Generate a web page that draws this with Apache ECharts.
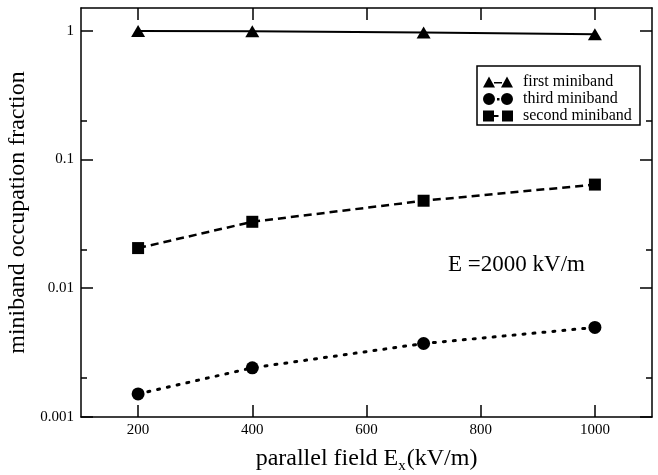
<!DOCTYPE html>
<html>
<head>
<meta charset="utf-8">
<script src="https://cdn.jsdelivr.net/npm/echarts@6/dist/echarts.min.js"></script>
<style>
html,body{margin:0;padding:0;background:#fff;}
#chart{width:658px;height:475px;}
</style>
</head>
<body>
<div id="chart"></div>
<script>
// ---- data ----
var fieldX = [200, 400, 700, 1000];
var firstMiniband = [0.995, 0.99, 0.97, 0.94];
var thirdMiniband = [0.00151, 0.00241, 0.00372, 0.00496];
var secondMiniband = [0.0205, 0.0328, 0.0478, 0.0638];
var seriesNames = ['first miniband', 'third miniband', 'second miniband'];
var xTickValues = [200, 400, 600, 800, 1000];
var yTickValues = [0.001, 0.01, 0.1, 1];
var yTickLabels = ['0.001', '0.01', '0.1', '1'];
var yMinorTicks = [0.002, 0.02, 0.2];
var annotation = 'E =2000 kV/m';

function pairs(xs, ys) { return xs.map(function (x, i) { return [x, ys[i]]; }); }

var FONT = 'Liberation Serif';
var chart = echarts.init(document.getElementById('chart'), null, { renderer: 'canvas' });

function yLabel(v) {
  var idx = Math.round(Math.log10(v)) + 3;
  return yTickLabels[idx] !== undefined ? yTickLabels[idx] : '';
}

// legend icons: marker - line style - marker (30 x 12 box)
var iconTri = 'path://M0 12L6 1L12 12ZM18 12L24 1L30 12ZM11 6.5L19 6.5L19 8L11 8Z';
var iconCircle = 'path://M0 6A6 6 0 1 0 12 6A6 6 0 1 0 0 6ZM18 6A6 6 0 1 0 30 6A6 6 0 1 0 18 6ZM14 5L16.5 5L16.5 7.5L14 7.5Z';
var iconSquare = 'path://M0 0.5L11 0.5L11 11.5L0 11.5ZM19 0.5L30 0.5L30 11.5L19 11.5ZM11 5L15.5 5L15.5 7L11 7Z';

var baseX = {
  type: 'value', min: 100, max: 1100,
  splitLine: { show: false },
  axisLine: { show: true, onZero: false, lineStyle: { color: '#000', width: 1.5 } }
};
var baseY = {
  type: 'log', logBase: 10, min: 0.001, max: 1.5,
  splitLine: { show: false },
  axisLine: { show: true, onZero: false, lineStyle: { color: '#000', width: 1.5 } }
};

var option = {
  backgroundColor: '#fff',
  animation: false,
  grid: { left: 81, right: 6, top: 8, bottom: 58, containLabel: false, outerBoundsMode: 'none' },
  xAxis: [
    Object.assign({}, baseX, {
      position: 'bottom',
      name: 'parallel field E{sub|x}(kV/m)',
      nameLocation: 'middle', nameGap: 30,
      nameTextStyle: {
        fontFamily: FONT, fontSize: 24, color: '#000',
        rich: { sub: { fontFamily: FONT, fontSize: 15, color: '#000', verticalAlign: 'bottom', padding: [0, 1, -3, 0] } }
      },
      axisTick: { show: true, inside: true, length: 12, customValues: xTickValues, lineStyle: { color: '#000', width: 1.5 } },
      axisLabel: { show: true, customValues: xTickValues, formatter: function (v) { return String(v); }, margin: 6, fontFamily: FONT, fontSize: 15, color: '#000' }
    }),
    Object.assign({}, baseX, {
      position: 'top',
      axisTick: { show: true, inside: true, length: 12, customValues: xTickValues, lineStyle: { color: '#000', width: 1.5 } },
      axisLabel: { show: false }
    })
  ],
  yAxis: [
    Object.assign({}, baseY, {
      position: 'left',
      name: 'miniband occupation fraction',
      nameLocation: 'middle', nameGap: 46,
      nameTextStyle: { fontFamily: FONT, fontSize: 24, color: '#000' },
      axisTick: { show: true, inside: true, length: 12, customValues: yTickValues, lineStyle: { color: '#000', width: 1.5 } },
      axisLabel: { show: true, customValues: yTickValues, formatter: yLabel, margin: 7, fontFamily: FONT, fontSize: 15, color: '#000' }
    }),
    Object.assign({}, baseY, {
      position: 'left',
      axisLine: { show: false },
      axisTick: { show: true, inside: true, length: 6, customValues: yMinorTicks, lineStyle: { color: '#000', width: 1.5 } },
      axisLabel: { show: false }
    }),
    Object.assign({}, baseY, {
      position: 'right',
      axisTick: { show: true, inside: true, length: 12, customValues: yTickValues, lineStyle: { color: '#000', width: 1.5 } },
      axisLabel: { show: false }
    }),
    Object.assign({}, baseY, {
      position: 'right',
      axisLine: { show: false },
      axisTick: { show: true, inside: true, length: 6, customValues: yMinorTicks, lineStyle: { color: '#000', width: 1.5 } },
      axisLabel: { show: false }
    })
  ],
  legend: {
    show: true,
    orient: 'vertical',
    left: 483, top: 74,
    padding: 0,
    itemWidth: 30, itemHeight: 12, itemGap: 1,
    textStyle: { fontFamily: FONT, fontSize: 16, color: '#000', padding: [0, 0, 0, 5] },
    data: [
      { name: seriesNames[0], icon: iconTri },
      { name: seriesNames[1], icon: iconCircle },
      { name: seriesNames[2], icon: iconSquare }
    ],
    selectedMode: false
  },
  graphic: [
    { type: 'rect', shape: { x: 477, y: 66, width: 163, height: 59 }, style: { fill: 'none', stroke: '#000', lineWidth: 1.5 }, z: 10 },
    { type: 'text', x: 448, y: 253, style: { text: annotation, fontFamily: FONT, fontSize: 23, fill: '#000' }, z: 10 }
  ],
  series: [
    {
      name: seriesNames[0], type: 'line', data: pairs(fieldX, firstMiniband),
      symbol: 'triangle', symbolSize: [14, 12],
      itemStyle: { color: '#000' },
      lineStyle: { color: '#000', width: 2, type: 'solid' }
    },
    {
      name: seriesNames[1], type: 'line', data: pairs(fieldX, thirdMiniband),
      symbol: 'circle', symbolSize: 13,
      itemStyle: { color: '#000' },
      lineStyle: { color: '#000', width: 3, type: [2, 8], cap: 'round' }
    },
    {
      name: seriesNames[2], type: 'line', data: pairs(fieldX, secondMiniband),
      symbol: 'rect', symbolSize: 12,
      itemStyle: { color: '#000' },
      lineStyle: { color: '#000', width: 2.5, type: [8, 5] }
    }
  ]
};
chart.setOption(option);
</script>
</body>
</html>
